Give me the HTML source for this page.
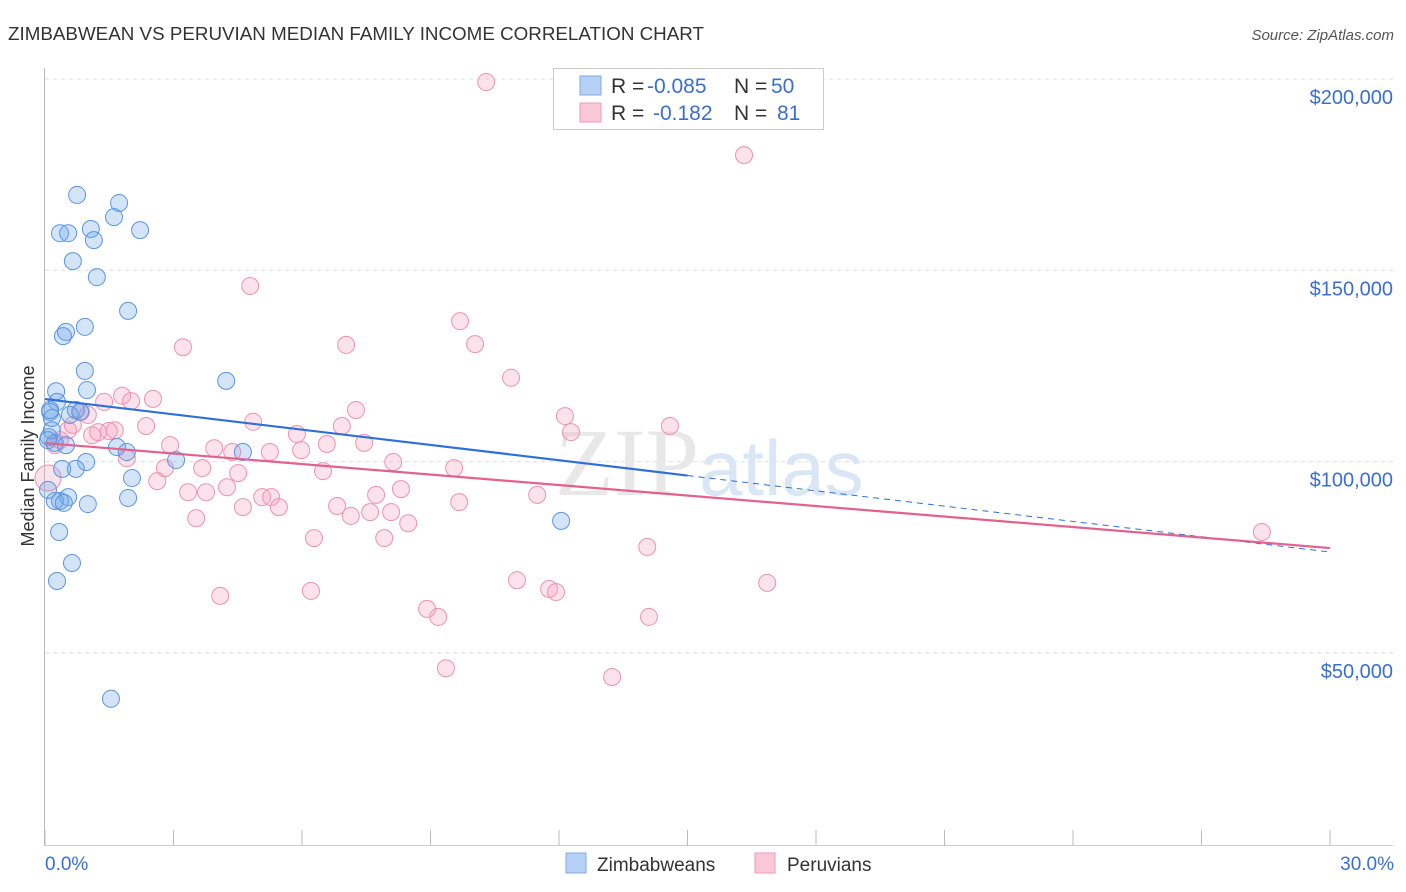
<!DOCTYPE html>
<html><head><meta charset="utf-8"><style>
body{margin:0;background:#fff;font-family:"Liberation Sans",sans-serif;}
svg{display:block}
</style></head><body>
<svg id="c" width="1406" height="892">
<text x="8" y="40" font-size="18.5" fill="#333" textLength="696" lengthAdjust="spacingAndGlyphs">ZIMBABWEAN VS PERUVIAN MEDIAN FAMILY INCOME CORRELATION CHART</text>
<text x="1394" y="40" font-size="15" fill="#555" font-style="italic" text-anchor="end">Source: ZipAtlas.com</text>
<text x="0" y="0" transform="translate(34,456) rotate(-90)" font-size="18" fill="#333" text-anchor="middle">Median Family Income</text>
<g id="grid"></g>
<text x="555" y="495" font-size="96" fill="#e8e8e8" font-family="Liberation Serif,serif">ZIP<tspan fill="#d8e6f5" font-family="Liberation Sans,sans-serif" font-size="78">atlas</tspan></text>
<g id="pts"></g>
<g id="lines"></g>
<g>
<rect x="553.5" y="68.5" width="270" height="61" fill="#fff" stroke="#ccc"/>
<rect x="580" y="76" width="21" height="19" fill="#b6d1f5" stroke="#7fa9e6"/>
<rect x="580" y="103" width="21" height="19" fill="#f9c8d6" stroke="#ee9ab5"/>
<text x="611" y="93" font-size="21" fill="#333">R = <tspan x="647" fill="#3a6fd0">-0.085</tspan><tspan x="734">N = </tspan><tspan x="771" fill="#3a6fd0">50</tspan></text>
<text x="611" y="120" font-size="21" fill="#333">R = <tspan x="653" fill="#3a6fd0">-0.182</tspan><tspan x="734">N = </tspan><tspan x="777" fill="#3a6fd0">81</tspan></text>
</g>
<g>
<rect x="566" y="853" width="20" height="20" fill="#b6d1f5" stroke="#7fa9e6"/>
<text x="597" y="871" font-size="19" fill="#333">Zimbabweans</text>
<rect x="755" y="853" width="20" height="20" fill="#f9c8d6" stroke="#ee9ab5"/>
<text x="787" y="871" font-size="19" fill="#333">Peruvians</text>
</g>
<text x="45" y="870" font-size="19" fill="#3a6fd0">0.0%</text>
<text x="1394" y="870" font-size="19" fill="#3a6fd0" text-anchor="end">30.0%</text>
</svg>
<script>
const yTicks=[200000,150000,100000,50000];
const yTickLabels=["$200,000","$150,000","$100,000","$50,000"];
const bluePct=[0.75,1.73,1.61,0.35,0.54,1.07,1.14,2.22,0.65,1.21,1.94,0.93,0.49,0.42,4.23,0.93,0.98,0.26,0.28,0.12,0.16,0.09,0.23,0.49,1.68,4.62,1.91,3.06,0.96,0.72,0.40,2.03,1.94,0.54,0.35,0.23,0.44,1.0,0.33,0.63,0.28,1.54,12.05,0.07,0.12,0.16,0.07,0.82,0.58,0.72];
const blueVal=[169700,167600,163900,159700,159700,160800,157900,160500,152400,148200,139400,135200,133900,132800,121100,123700,118700,118400,115600,113000,111400,106400,104900,104300,103800,102500,102500,100400,99900,98100,98100,95700,90500,90700,89700,89700,89200,88900,81600,73500,68800,38000,84500,92600,113500,108200,105600,113000,112200,113500];
const pinkPct=[10.30,16.32,4.79,9.69,3.22,7.03,10.04,10.88,1.80,2.52,1.38,2.01,7.26,0.84,4.86,12.14,2.36,6.93,14.59,12.28,1.10,1.63,5.88,1.49,2.92,3.95,4.37,5.25,5.98,6.58,7.45,8.13,1.91,2.80,3.67,4.51,6.49,9.55,2.62,4.25,3.34,3.76,5.07,5.28,5.46,4.62,6.82,8.31,7.73,9.67,11.49,7.14,7.59,8.08,8.48,3.53,6.28,7.92,14.06,11.02,11.77,11.93,16.86,4.09,6.21,8.92,9.18,14.10,9.36,13.24,28.41,0.07,0.23,0.54,1.00,0.35,1.24,0.65];
const pinkVal=[199200,180100,145900,136700,129900,130500,130700,121900,117200,116400,115600,115800,113500,113000,110400,111900,109300,109300,109300,107700,106900,108200,107200,108000,104300,103500,102500,102500,103000,104600,104900,99900,100900,98300,98300,97000,97500,98300,94900,93300,92000,92000,90700,90700,88100,88100,88400,92800,91300,89400,91300,85800,86800,86800,83900,85200,80000,80000,77700,69000,66700,65900,68300,64900,66200,61500,59400,59400,46000,43700,81600,95700,104300,108200,112200,105600,107700,109600];
const blueTrend=[116350,76360];
const pinkTrend=[104850,77400];
const NS="http://www.w3.org/2000/svg";
const X=p=>45+p/30*1285;
const Y=v=>79+(200000-v)/50000*191.3;
function mk(t,a,parent){const e=document.createElementNS(NS,t);for(const k in a)e.setAttribute(k,a[k]);parent.appendChild(e);return e;}
const grid=document.getElementById('grid');
let ax=mk('line',{x1:44.5,y1:68,x2:44.5,y2:845,stroke:'#bbb'},grid);


let bx=mk('line',{x1:44,y1:845.5,x2:1393,y2:845.5,stroke:'#ccc'},grid);


yTicks.forEach((v,i)=>{
 const g=mk('line',{x1:45,y1:Y(v),x2:1393,y2:Y(v),stroke:'#ddd','stroke-dasharray':'4,4'},grid);
 
 
 const t=mk('text',{x:1393,y:Y(v)+25,'font-size':20,fill:'#3a6fd0','text-anchor':'end'},grid);
 t.textContent=yTickLabels[i];
 
 
});
for(let i=0;i<=10;i++){
 const tk=mk('line',{x1:X(i*3),y1:830,x2:X(i*3),y2:845,stroke:'#bbb'},grid);
 
 
}
const pts=document.getElementById('pts');
pinkPct.forEach((p,i)=>{
 const c=mk('circle',{cx:X(p),cy:Y(pinkVal[i]),r:i==71?13:8.5,fill:'rgba(244,160,188,0.3)',stroke:'#ec93b1','stroke-width':1},pts);
 
 
});
bluePct.forEach((p,i)=>{
 const c=mk('circle',{cx:X(p),cy:Y(blueVal[i]),r:8.5,fill:'rgba(110,165,235,0.3)',stroke:'#5b95e0','stroke-width':1},pts);
 
 
});
const L=document.getElementById('lines');
const bv=p=>blueTrend[0]+(blueTrend[1]-blueTrend[0])*p/30;
let l1=mk('line',{x1:X(0),y1:Y(bv(0)),x2:X(15),y2:Y(bv(15)),stroke:'#2f6fd6','stroke-width':2.2},L);


let l2=mk('line',{x1:X(15),y1:Y(bv(15)),x2:X(30),y2:Y(bv(30)),stroke:'#2f6fd6','stroke-width':1,'stroke-dasharray':'6,5'},L);


let l3=mk('line',{x1:X(0),y1:Y(pinkTrend[0]),x2:X(30),y2:Y(pinkTrend[1]),stroke:'#e2628f','stroke-width':2.2},L);


</script>
</body></html>
